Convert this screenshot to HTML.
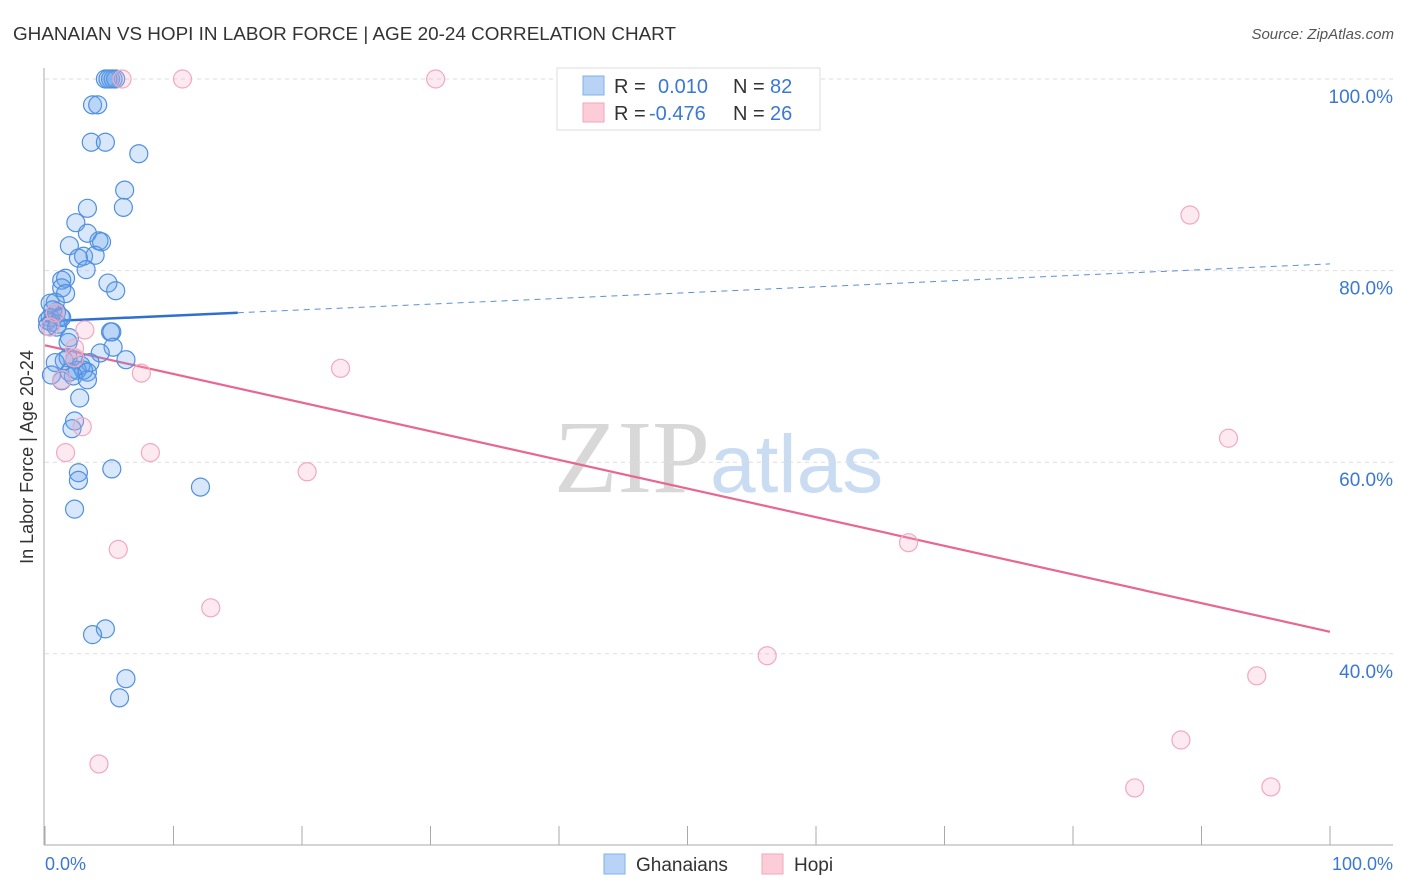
<!DOCTYPE html>
<html><head><meta charset="utf-8"><style>
body{margin:0;background:#fff;font-family:"Liberation Sans",sans-serif}
</style></head><body>
<svg id="chart" width="1406" height="892" xmlns="http://www.w3.org/2000/svg" style="display:block">
<text x="13" y="40" font-size="18" fill="#333" textLength="663" lengthAdjust="spacingAndGlyphs">GHANAIAN VS HOPI IN LABOR FORCE | AGE 20-24 CORRELATION CHART</text>
<text x="1394" y="39" font-size="15" fill="#555" text-anchor="end" font-style="italic">Source: ZipAtlas.com</text>
<text x="554" y="492" font-size="104" fill="#ddd" font-family="Liberation Serif"><tspan fill="#d8d8d8">ZIP</tspan><tspan fill="#c9dcf2" font-family="Liberation Sans" font-size="82">atlas</tspan></text>
<text transform="translate(33,457) rotate(-90)" font-size="18" fill="#333" text-anchor="middle">In Labor Force | Age 20-24</text>
<g id="grid"></g><g id="axes"></g><g id="lines"></g><g id="points"></g>
<g>
<rect x="557" y="68" width="263" height="62" fill="#fff" stroke="#ddd"/>
<rect x="583" y="76" width="21" height="19" fill="#b8d3f5" stroke="#7fb0ec"/>
<rect x="583" y="103" width="21" height="19" fill="#fcccd9" stroke="#f2a7bd"/>
<text x="614" y="93" font-size="20" fill="#333">R =</text><text x="658" y="93" font-size="20" fill="#3a78d4">0.010</text>
<text x="733" y="93" font-size="20" fill="#333">N =</text><text x="770" y="93" font-size="20" fill="#3a78d4">82</text>
<text x="614" y="120" font-size="20" fill="#333">R =</text><text x="649" y="120" font-size="20" fill="#3a78d4">-0.476</text>
<text x="733" y="120" font-size="20" fill="#333">N =</text><text x="770" y="120" font-size="20" fill="#3a78d4">26</text>
</g>
<g>
<rect x="604" y="854" width="21" height="20" fill="#b8d3f5" stroke="#7fb0ec"/>
<text x="636" y="871" font-size="19" fill="#333">Ghanaians</text>
<rect x="762" y="854" width="21" height="20" fill="#fcccd9" stroke="#f2a7bd"/>
<text x="794" y="871" font-size="19" fill="#333">Hopi</text>
</g>
</svg>
<script>
const yTicks=[100,80,60,40];
const yTickLabels=["100.0%","80.0%","60.0%","40.0%"];
const xTicks=[0,10,20,30,40,50,60,70,80,90,100];
const blueX=[4.7,5.1,5.3,5.5,4.9,3.7,4.1,3.6,4.7,7.3,6.2,6.1,3.3,2.4,3.3,4.2,4.4,1.9,3.0,2.6,3.9,3.2,1.6,1.3,1.3,1.6,4.9,5.5,0.8,0.4,0.6,0.9,1.2,0.4,0.2,0.5,1.0,0.2,0.9,1.3,5.1,5.2,1.9,1.8,5.3,4.3,3.5,1.5,1.8,0.8,6.3,2.3,2.8,2.5,3.0,1.9,3.3,2.2,3.3,1.3,0.5,2.7,2.3,2.1,2.6,2.6,5.2,2.3,12.1,4.7,3.7,6.3,5.8];
const blueY=[100,100,100,100,100,97.3,97.3,93.4,93.4,92.2,88.4,86.6,86.5,85.0,83.9,83.1,83.0,82.6,81.5,81.3,81.6,80.1,79.2,79.0,78.2,77.6,78.7,77.9,76.7,76.6,75.9,75.7,75.2,75.1,74.8,74.6,74.4,74.2,74.1,75.1,73.6,73.6,73.0,72.5,72.0,71.4,70.4,70.6,70.9,70.4,70.7,70.7,70.1,69.6,69.6,69.4,69.4,69.0,68.6,68.5,69.1,66.7,64.3,63.5,58.9,58.1,59.3,55.1,57.4,42.6,42.0,37.4,35.4];
const pinkX=[6.0,10.7,30.4,89.1,92.1,23.0,7.5,3.1,2.3,2.9,1.6,8.2,20.4,5.7,12.9,67.2,56.2,94.3,88.4,4.2,84.8,95.4,0.4,1.3,0.8,2.3];
const pinkY=[100,100,100,85.8,62.5,69.8,69.3,73.8,71.9,63.7,61.0,61.0,59.0,50.9,44.8,51.6,39.8,37.7,31.0,28.5,26.0,26.1,74.1,68.6,75.6,70.9];
const blueTrend=[74.7,80.7];
const pinkTrend=[72.2,42.3];
const sx=v=>45+v*12.85, sy=v=>79+(100-v)*9.58;
const NS="http://www.w3.org/2000/svg";
function mk(t,a,p){const e=document.createElementNS(NS,t);for(const k in a)e.setAttribute(k,a[k]);p.appendChild(e);return e;}
const grid=document.getElementById('grid'),axes=document.getElementById('axes'),lines=document.getElementById('lines'),pts=document.getElementById('points');
yTicks.forEach((t,i)=>{
 const g=mk('line',{x1:45,x2:1393,y1:sy(t),y2:sy(t),stroke:'#ddd','stroke-dasharray':'4,4'},grid);
 
 
 const tx=mk('text',{x:1393,y:sy(t)+24,'font-size':19,fill:'#3a78d4','text-anchor':'end'},axes);
 tx.textContent=yTickLabels[i];
 
 
});
const ax=mk('line',{x1:44,x2:44,y1:68,y2:845,stroke:'#aaa'},axes);


const bx=mk('line',{x1:44,x2:1393,y1:845,y2:845,stroke:'#aaa'},axes);


xTicks.forEach(t=>{const l=mk('line',{x1:sx(t),x2:sx(t),y1:826,y2:845,stroke:'#aaa'},axes);
 
 });
[["0.0%",45,'start'],["100.0%",1393,'end']].forEach(([s,x,a])=>{const t=mk('text',{x:x,y:870,'font-size':18,fill:'#3a78d4','text-anchor':a},axes);t.textContent=s;
 
 });
function dots(X,Y,fill,stroke,name){X.forEach((x,i)=>{const c=mk('circle',{cx:sx(x),cy:sy(Y[i]),r:9,fill:fill,stroke:stroke,'stroke-width':1.2},pts);
 
 });}
dots(blueX,blueY,'rgba(100,160,235,0.25)','#5090e0','ghanaian-point');
dots(pinkX,pinkY,'rgba(248,170,195,0.25)','#f3a8c0','hopi-point');
const yb=x=>blueTrend[0]+(blueTrend[1]-blueTrend[0])*x/100;
const l1=mk('line',{x1:sx(0),y1:sy(yb(0)),x2:sx(15),y2:sy(yb(15)),stroke:'#2f6fd0','stroke-width':2.5},lines);


const l2=mk('line',{x1:sx(15),y1:sy(yb(15)),x2:sx(100),y2:sy(yb(100)),stroke:'#5b8fd8','stroke-width':1,'stroke-dasharray':'6,5'},lines);


const l3=mk('line',{x1:sx(0),y1:sy(pinkTrend[0]),x2:sx(100),y2:sy(pinkTrend[1]),stroke:'#e8668f','stroke-width':2.2},lines);


</script>
</body></html>
